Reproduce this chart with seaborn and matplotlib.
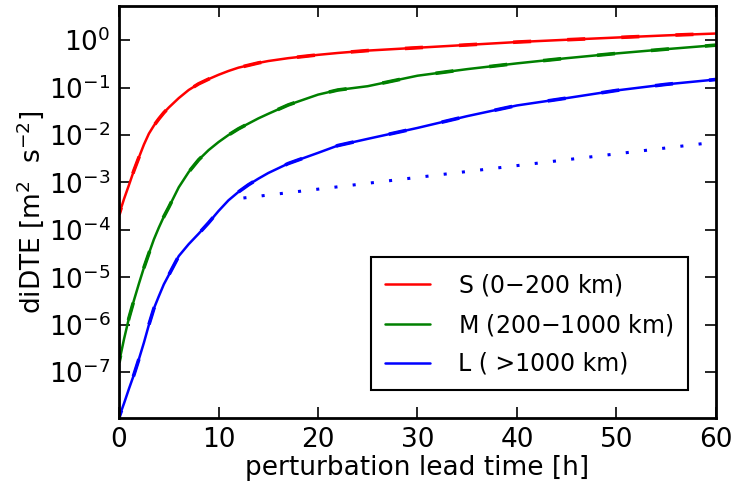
import pandas as pd
import seaborn as sns
import matplotlib
matplotlib.use("Agg")
import matplotlib.pyplot as plt

# Values (log-scaled y axis)
lead_time = [0, 0.5, 1, 1.5, 2, 2.5, 3, 3.5, 4, 4.5, 5, 6, 7, 8, 9, 10,
             11, 12, 13, 14, 15, 17, 20, 22, 25, 30, 35, 40, 45, 50, 55, 60]

didte_s = [2.1e-4, 4.5e-4, 8.9e-4, 1.8e-3, 3.4e-3, 6.3e-3, 1.07e-2, 1.58e-2,
           2.19e-2, 2.95e-2, 3.8e-2, 6.0e-2, 8.9e-2, 0.12, 0.151, 0.186,
           0.224, 0.263, 0.295, 0.331, 0.363, 0.417, 0.49, 0.537, 0.603,
           0.692, 0.794, 0.912, 1.02, 1.135, 1.26, 1.38]
didte_m = [1.6e-7, 5.0e-7, 1.4e-6, 3.3e-6, 7.4e-6, 1.6e-5, 3.2e-5, 6.3e-5,
           1.12e-4, 1.9e-4, 3.0e-4, 7.9e-4, 1.66e-3, 3.0e-3, 4.8e-3, 7.1e-3,
           1.0e-2, 1.35e-2, 1.74e-2, 2.24e-2, 2.8e-2, 4.3e-2, 7.1e-2, 8.9e-2,
           0.107, 0.178, 0.245, 0.324, 0.417, 0.525, 0.646, 0.785]
didte_l = [1.12e-8, 2.2e-8, 4.5e-8, 8.9e-8, 1.9e-7, 4.2e-7, 1.0e-6, 2.2e-6,
           4.0e-6, 7.1e-6, 1.12e-5, 2.8e-5, 5.0e-5, 8.3e-5, 1.41e-4, 2.5e-4,
           4.2e-4, 6.3e-4, 8.9e-4, 1.2e-3, 1.58e-3, 2.5e-3, 4.2e-3, 6.0e-3,
           8.3e-3, 1.41e-2, 2.5e-2, 4.2e-2, 6.0e-2, 8.7e-2, 0.117, 0.148]

# exponential growth reference for the large scales
dotted_time = [12.5, 60]
dotted_l = [4.7e-4, 7.1e-3]

labels = ["S (0$-$200 km)", "M (200$-$1000 km)", "L ( >1000 km)"]
colors = ["#ff0000", "#008000", "#0000ff"]

sns.set_theme(style="ticks")
plt.rcParams["font.family"] = ["DejaVu Sans"]
plt.rcParams["mathtext.default"] = "regular"
plt.rcParams.update({
    "xtick.direction": "in", "ytick.direction": "in",
    "xtick.top": True, "ytick.right": True,
    "xtick.major.size": 8, "ytick.major.size": 8,
    "xtick.minor.size": 4, "ytick.minor.size": 4,
    "xtick.major.width": 1.2, "ytick.major.width": 1.2,
    "axes.linewidth": 2.0,
    "axes.edgecolor": "black",
    "text.color": "black", "axes.labelcolor": "black",
    "xtick.color": "black", "ytick.color": "black",
})

fig = plt.figure(figsize=(7.35, 4.84), dpi=100)
ax = fig.add_axes([0.162, 0.136, 0.812, 0.852])

series = [didte_s, didte_m, didte_l]
for vals, lab, col in zip(series, labels, colors):
    df = pd.DataFrame({"t": lead_time, "v": vals})
    sns.lineplot(data=df, x="t", y="v", color=col, lw=1.8, label=lab, ax=ax)
    sns.lineplot(data=df, x="t", y="v", color=col, lw=2.6, ax=ax,
                 linestyle=(3, (5, 10)), legend=False)

dot_df = pd.DataFrame({"t": dotted_time, "v": dotted_l})
sns.lineplot(data=dot_df, x="t", y="v", color="#0000ff", lw=2.2,
             linestyle=(0, (1, 5)), legend=False, ax=ax)

ax.set_yscale("log")
ax.set_xlim(0, 60)
ax.set_ylim(1.07e-8, 5.3)
ax.set_xticks([0, 10, 20, 30, 40, 50, 60])
ax.set_yticks([1e-7, 1e-6, 1e-5, 1e-4, 1e-3, 1e-2, 1e-1, 1e0])
ax.tick_params(axis="both", which="major", labelsize=19, pad=6)
ax.set_xlabel("perturbation lead time [h]", fontsize=19, labelpad=2)
ax.set_ylabel("diDTE [m$^2$  s$^{-2}$]", fontsize=19, labelpad=2)

handles, labs = ax.get_legend_handles_labels()
leg = ax.legend(handles[:3], labs[:3], loc="lower right",
                bbox_to_anchor=(0.953, 0.068), borderaxespad=0,
                fontsize=17, fancybox=False, frameon=True,
                handlelength=1.9, handletextpad=1.2, labelspacing=0.6,
                borderpad=0.6)
leg.get_frame().set_edgecolor("black")
leg.get_frame().set_linewidth(1.5)
leg.get_frame().set_alpha(1)

fig.savefig("out.png", dpi=100)
